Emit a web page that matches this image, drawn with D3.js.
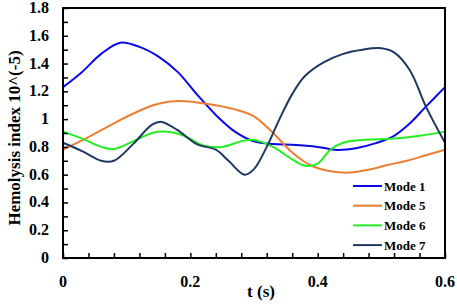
<!DOCTYPE html>
<html>
<head>
<meta charset="utf-8">
<script src="https://cdn.jsdelivr.net/npm/d3@7"></script>
<style>
  body { margin: 0; background: #fff; }
</style>
</head>
<body>
<div id="chart"></div>
<script>
// data
const mode1T = [0, 0.03, 0.06, 0.09, 0.12, 0.15, 0.18, 0.21, 0.24, 0.27, 0.30, 0.33, 0.36, 0.40, 0.43, 0.46, 0.49, 0.52, 0.545, 0.57, 0.60];
const mode1V = [1.23, 1.34, 1.47, 1.55, 1.52, 1.45, 1.34, 1.18, 1.03, 0.91, 0.84, 0.82, 0.815, 0.80, 0.778, 0.79, 0.825, 0.88, 0.97, 1.09, 1.23];

const mode5T = [0, 0.04, 0.08, 0.12, 0.15, 0.18, 0.21, 0.24, 0.27, 0.30, 0.33, 0.36, 0.39, 0.42, 0.45, 0.48, 0.51, 0.54, 0.57, 0.60];
const mode5V = [0.78, 0.87, 0.97, 1.06, 1.11, 1.13, 1.12, 1.10, 1.07, 1.02, 0.90, 0.76, 0.665, 0.625, 0.615, 0.635, 0.67, 0.70, 0.74, 0.78];

const mode6T = [0, 0.03, 0.06, 0.08, 0.11, 0.14, 0.16, 0.19, 0.22, 0.25, 0.28, 0.30, 0.33, 0.36, 0.38, 0.40, 0.42, 0.44, 0.47, 0.52, 0.56, 0.60];
const mode6V = [0.91, 0.86, 0.80, 0.785, 0.84, 0.90, 0.91, 0.88, 0.81, 0.80, 0.84, 0.85, 0.80, 0.71, 0.665, 0.68, 0.78, 0.83, 0.85, 0.86, 0.88, 0.91];

const mode7T = [0, 0.03, 0.06, 0.08, 0.11, 0.14, 0.155, 0.18, 0.21, 0.24, 0.26, 0.285, 0.30, 0.32, 0.34, 0.36, 0.38, 0.41, 0.44, 0.47, 0.50, 0.52, 0.545, 0.57, 0.60];
const mode7V = [0.83, 0.77, 0.70, 0.70, 0.82, 0.96, 0.98, 0.92, 0.82, 0.78, 0.70, 0.60, 0.64, 0.80, 1.00, 1.18, 1.31, 1.41, 1.47, 1.50, 1.51, 1.48, 1.35, 1.09, 0.83];

const seriesNames = ["Mode 1", "Mode 5", "Mode 6", "Mode 7"];
const seriesColors = ["#0a0ae6", "#ed7d31", "#22ee22", "#1f3864"];
const xTickLabels = [0, 0.2, 0.4, 0.6];
const yTickLabels = [0, 0.2, 0.4, 0.6, 0.8, 1, 1.2, 1.4, 1.6, 1.8];

const series = [
  { name: seriesNames[0], t: mode1T, v: mode1V, color: seriesColors[0] },
  { name: seriesNames[1], t: mode5T, v: mode5V, color: seriesColors[1] },
  { name: seriesNames[2], t: mode6T, v: mode6V, color: seriesColors[2] },
  { name: seriesNames[3], t: mode7T, v: mode7V, color: seriesColors[3] }
].map(s => ({ ...s, values: s.t.map((t, i) => ({ t, v: s.v[i] })) }));

const W = 457, H = 304;
const margin = { top: 8, right: 12, bottom: 46, left: 63 };
const width = W - margin.left - margin.right;
const height = H - margin.top - margin.bottom;
const FONT = "'Liberation Serif', 'Times New Roman', serif";

const svg = d3.select("#chart").append("svg")
  .attr("width", W).attr("height", H)
  .attr("font-family", FONT)
  .attr("font-weight", "bold")
  .append("g")
  .attr("transform", `translate(${margin.left},${margin.top})`);

const x = d3.scaleLinear().domain([0, 0.6]).range([0, width]);
const y = d3.scaleLinear().domain([0, 1.8]).range([height, 0]);

// lines
const line = d3.line()
  .x(d => x(d.t))
  .y(d => y(d.v))
  .curve(d3.curveCatmullRom.alpha(0.5));

series.forEach(s => {
  svg.append("path")
    .datum(s.values)
    .attr("fill", "none")
    .attr("stroke", s.color)
    .attr("stroke-width", 2)
    .attr("d", line);
});

// frame
svg.append("rect")
  .attr("width", width).attr("height", height)
  .attr("fill", "none").attr("stroke", "#000").attr("stroke-width", 2);

// inward ticks
const yAxis = svg.append("g")
  .call(d3.axisRight(y).tickValues(d3.range(0, 1.81, 0.1)).tickSize(5).tickFormat(""));
const xAxis = svg.append("g")
  .attr("transform", `translate(0,${height})`)
  .call(d3.axisTop(x).tickValues(d3.range(0, 0.601, 0.04)).tickSize(5).tickFormat(""));
[yAxis, xAxis].forEach(a => {
  a.select(".domain").remove();
  a.selectAll("line").attr("stroke", "#000").attr("stroke-width", 1.5);
});

// tick labels
svg.selectAll(".ylab").data(yTickLabels).enter().append("text")
  .attr("x", -14).attr("y", d => y(d) + 5)
  .attr("text-anchor", "end")
  .attr("font-family", FONT).attr("font-weight", "bold")
  .style("font-size", "16px")
  .text(d => d);

svg.selectAll(".xlab").data(xTickLabels).enter().append("text")
  .attr("x", d => x(d)).attr("y", height + 29)
  .attr("text-anchor", "middle")
  .attr("font-family", FONT).attr("font-weight", "bold")
  .style("font-size", "16px")
  .text(d => d);

// axis titles
svg.append("text")
  .attr("x", 198).attr("y", height + 39)
  .attr("text-anchor", "middle")
  .attr("font-family", FONT).attr("font-weight", "bold")
  .style("font-size", "17px")
  .text("t (s)");

svg.append("text")
  .attr("transform", "rotate(-90)")
  .attr("x", -130).attr("y", -43)
  .attr("text-anchor", "middle")
  .attr("font-family", FONT).attr("font-weight", "bold")
  .style("font-size", "17px")
  .text("Hemolysis index 10^(-5)");

// legend
const legend = svg.append("g")
  .attr("transform", `translate(${353 - margin.left},${186 - margin.top})`);
series.forEach((s, i) => {
  legend.append("line")
    .attr("x1", 0).attr("x2", 29)
    .attr("y1", i * 19.7).attr("y2", i * 19.7)
    .attr("stroke", s.color).attr("stroke-width", 2);
  legend.append("text")
    .attr("x", 31).attr("y", i * 19.7 + 4.5)
    .attr("font-family", FONT).attr("font-weight", "bold")
    .style("font-size", "13px")
    .text(s.name);
});
</script>
</body>
</html>
